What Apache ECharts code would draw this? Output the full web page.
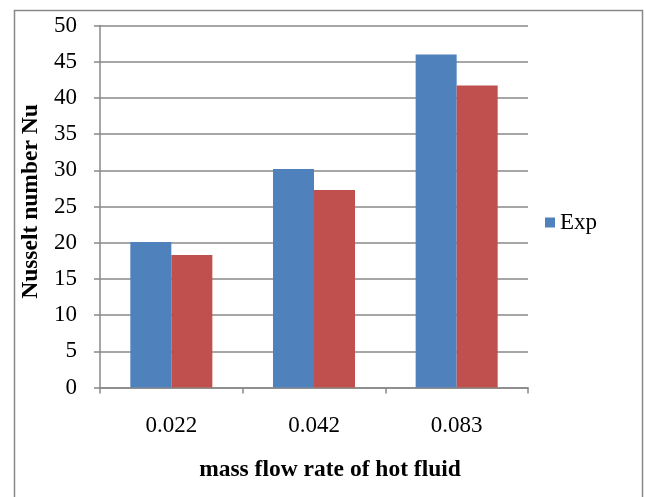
<!DOCTYPE html>
<html>
<head>
<meta charset="utf-8">
<style>html,body{margin:0;padding:0;background:#fff;}#chart{width:646px;height:497px;}</style>
<script src="https://cdn.jsdelivr.net/npm/echarts@6/dist/echarts.min.js"></script>
</head>
<body>
<div id="chart"></div>
<script>
const categories = ['0.022', '0.042', '0.083'];
const expValues = [20.1, 30.2, 46.0];
const secondValues = [18.3, 27.3, 41.7];
const yTicks = [0, 5, 10, 15, 20, 25, 30, 35, 40, 45, 50];

const chart = echarts.init(document.getElementById('chart'));
const font = '"Liberation Serif", "Times New Roman", serif';
chart.setOption({
  animation: false,
  textStyle: { fontFamily: font },
  graphic: [{
    type: 'rect', left: 12, top: 8, shape: { width: 628, height: 500 },
    style: { fill: 'none', stroke: '#888', lineWidth: 1.5 }, silent: true
  }],
  legend: {
    data: ['Exp'], orient: 'vertical', left: 540, top: 206,
    itemWidth: 10, itemHeight: 10, itemGap: 6,
    textStyle: { fontFamily: font, fontSize: 23, color: '#000' },
    icon: 'rect'
  },
  grid: { left: 100, right: 118, top: 25.5, bottom: 109.4 },
  xAxis: {
    type: 'category', data: categories,
    name: 'mass flow rate of hot fluid', nameLocation: 'middle', nameGap: 70,
    nameTextStyle: { fontFamily: font, fontSize: 23.5, fontWeight: 'bold', color: '#000', padding: [0, 0, 0, 32] },
    axisLine: { lineStyle: { color: '#888', width: 1.5 } },
    axisTick: { show: true, length: 6, lineStyle: { color: '#888', width: 1.5 } },
    axisLabel: { fontFamily: font, fontSize: 23, color: '#000', margin: 27 }
  },
  yAxis: {
    type: 'value', min: yTicks[0], max: yTicks[yTicks.length - 1], interval: 5,
    name: 'Nusselt number Nu', nameLocation: 'middle', nameGap: 57,
    nameTextStyle: { fontFamily: font, fontSize: 23.5, fontWeight: 'bold', color: '#000', padding: [0, 0, 0, 10] },
    axisLine: { show: true, lineStyle: { color: '#888', width: 1.5 } },
    axisTick: { show: true, length: 6, lineStyle: { color: '#888', width: 1.5 } },
    axisLabel: { fontFamily: font, fontSize: 23, color: '#000', margin: 23 },
    splitLine: { lineStyle: { color: '#888', width: 1.5 } }
  },
  series: [
    { name: 'Exp', type: 'bar', data: expValues, barGap: '0%', barCategoryGap: '42.5%',
      itemStyle: { color: '#4F81BD' } },
    { name: 'Model', type: 'bar', data: secondValues,
      itemStyle: { color: '#C0504D' } }
  ]
});
</script>
</body>
</html>
